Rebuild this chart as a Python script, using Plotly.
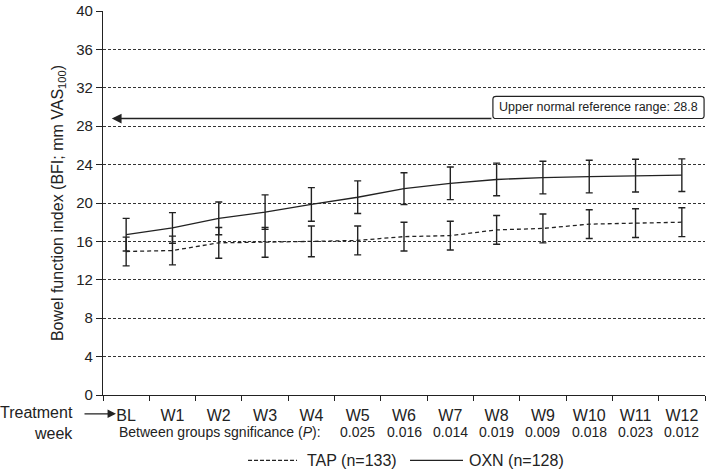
import plotly.graph_objects as go

weeks = ["BL", "W1", "W2", "W3", "W4", "W5", "W6", "W7", "W8", "W9", "W10", "W11", "W12"]
oxn_mean = [16.7, 17.4, 18.4, 19.05, 19.85, 20.6, 21.5, 22.05, 22.45, 22.65, 22.75, 22.85, 22.9]
oxn_err = [1.7, 1.6, 1.7, 1.8, 1.75, 1.7, 1.65, 1.7, 1.7, 1.7, 1.7, 1.7, 1.7]
tap_mean = [14.95, 15.05, 15.85, 15.9, 16.0, 16.1, 16.5, 16.6, 17.2, 17.35, 17.8, 17.9, 18.0]
tap_err = [1.5, 1.5, 1.6, 1.55, 1.6, 1.5, 1.5, 1.5, 1.5, 1.5, 1.5, 1.5, 1.5]
p_weeks = ["W5", "W6", "W7", "W8", "W9", "W10", "W11", "W12"]
p_values = ["0.025", "0.016", "0.014", "0.019", "0.009", "0.018", "0.023", "0.012"]
upper_normal = 28.8

FONT = "Liberation Sans, Arial, sans-serif"
INK = "#222222"

fig = go.Figure()
fig.add_trace(go.Scatter(
    x=weeks, y=tap_mean, mode="lines", name="TAP (n=133)",
    line=dict(color=INK, width=1.3, dash="4px,3px"),
    error_y=dict(type="data", array=tap_err, visible=True, color=INK, thickness=1.4, width=3.5),
))
fig.add_trace(go.Scatter(
    x=weeks, y=oxn_mean, mode="lines", name="OXN (n=128)",
    line=dict(color=INK, width=1.3),
    error_y=dict(type="data", array=oxn_err, visible=True, color=INK, thickness=1.4, width=3.5),
))

# reference arrow + box
idx_of = {w: i for i, w in enumerate(weeks)}
box_x0, box_x1 = 7.92, 12.48
box_y0, box_y1 = upper_normal, 31.1
rx, ry = 0.07, 0.3
path = (f"M{box_x0+rx},{box_y0} L{box_x1-rx},{box_y0} Q{box_x1},{box_y0} {box_x1},{box_y0+ry} "
        f"L{box_x1},{box_y1-ry} Q{box_x1},{box_y1} {box_x1-rx},{box_y1} "
        f"L{box_x0+rx},{box_y1} Q{box_x0},{box_y1} {box_x0},{box_y1-ry} "
        f"L{box_x0},{box_y0+ry} Q{box_x0},{box_y0} {box_x0+rx},{box_y0} Z")
fig.add_shape(type="path", path=path, xref="x", yref="y",
              line=dict(color=INK, width=1.2), fillcolor="white", layer="above")
fig.add_annotation(x=-0.31, y=upper_normal, ax=box_x0, ay=upper_normal, axref="x", ayref="y",
                   xref="x", yref="y", text="", showarrow=True, arrowhead=2, arrowsize=1.5,
                   arrowwidth=1.3, arrowcolor=INK)
fig.add_annotation(x=(box_x0 + box_x1) / 2, y=(box_y0 + box_y1) / 2, xref="x", yref="y",
                   text=f"Upper normal reference range: {upper_normal}", showarrow=False,
                   font=dict(size=12.5, color=INK, family=FONT))

# Treatment week label with arrow
fig.add_annotation(x=-0.0465, y=-0.073, xref="paper", yref="paper", xanchor="right", yanchor="middle",
                   text="Treatment<br>week", align="right", showarrow=False,
                   font=dict(size=16, color=INK, family=FONT))
fig.add_annotation(x=0.0216, y=-0.049, xref="paper", yref="paper", text="", showarrow=True,
                   ax=-33, ay=0, arrowhead=2, arrowsize=1.3, arrowwidth=1.3, arrowcolor=INK)

# significance row
fig.add_annotation(x=0.0233, y=-0.0954, xref="paper", yref="paper", xanchor="left", yanchor="middle",
                   text="Between groups sgnificance (<i>P</i>):", showarrow=False,
                   font=dict(size=14, color=INK, family=FONT))
for w, p in zip(p_weeks, p_values):
    fig.add_annotation(x=idx_of[w], y=-0.0954, xref="x", yref="paper", yanchor="middle",
                       text=p, showarrow=False, font=dict(size=14, color=INK, family=FONT))

# legend (manual)
leg_y = -0.170
fig.add_shape(type="line", xref="paper", yref="paper", x0=0.2409, x1=0.3223, y0=leg_y, y1=leg_y,
              line=dict(color=INK, width=1.3, dash="4px,2px"))
fig.add_annotation(x=0.3355, y=leg_y, xref="paper", yref="paper", xanchor="left", yanchor="middle",
                   text="TAP (n=133)", showarrow=False, font=dict(size=16, color=INK, family=FONT))
fig.add_shape(type="line", xref="paper", yref="paper", x0=0.510, x1=0.598, y0=leg_y, y1=leg_y,
              line=dict(color=INK, width=1.3))
fig.add_annotation(x=0.6047, y=leg_y, xref="paper", yref="paper", xanchor="left", yanchor="middle",
                   text="OXN (n=128)", showarrow=False, font=dict(size=16, color=INK, family=FONT))

fig.update_layout(
    width=707, height=472,
    margin=dict(l=103, r=2, t=7, b=77),
    paper_bgcolor="white", plot_bgcolor="white",
    showlegend=False,
    font=dict(family=FONT, color=INK),
)
fig.update_xaxes(
    type="category", categoryorder="array", categoryarray=weeks, range=[-0.5, 12.5],
    showgrid=False, showline=True, linecolor=INK, linewidth=1.3,
    ticks="outside", tickson="boundaries", ticklen=5, tickcolor=INK, tickwidth=1.2,
    tickfont=dict(size=16, color=INK, family=FONT), ticklabelstandoff=6, zeroline=False,
)
fig.update_yaxes(
    range=[0, 40], tickvals=list(range(0, 41, 4)), ticklabeloverflow="allow",
    showgrid=True, gridcolor="#333333", gridwidth=1, griddash="3px,2px",
    showline=True, linecolor=INK, linewidth=1.3, zeroline=False,
    ticks="outside", ticklen=6, tickcolor=INK, tickwidth=1.2,
    tickfont=dict(size=15, color=INK, family=FONT),
    title=dict(text="Bowel function index (BFI; mm VAS<sub>100</sub>)", font=dict(size=16, color=INK, family=FONT), standoff=8),
)

fig.write_html("out.html", config={"displayModeBar": False},
               post_script="document.body.style.margin='0px';")
